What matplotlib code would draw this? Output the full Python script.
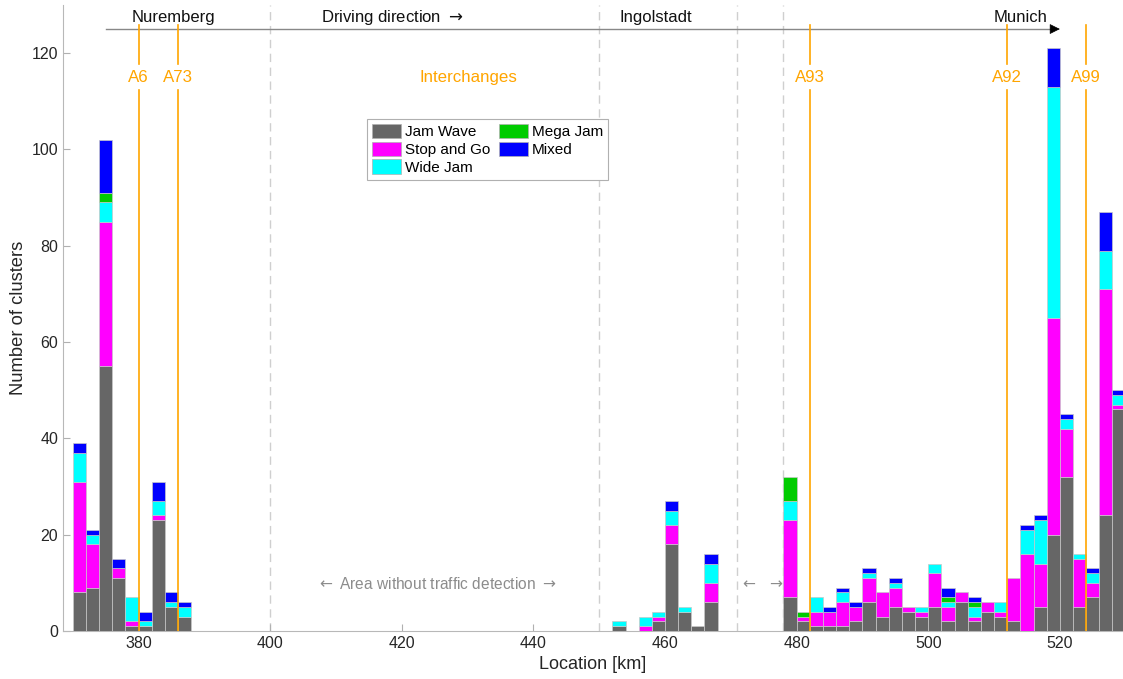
import numpy as np
import matplotlib
matplotlib.use('Agg')
import matplotlib.pyplot as plt

plt.rcParams['font.family'] = ['Liberation Sans', 'DejaVu Sans']

# left edge of each 2 km bin (only bins with clusters)
bin_start = [370, 372, 374, 376, 378, 380, 382, 384, 386,
             452, 456, 458, 460, 462, 464, 466,
             478, 480, 482, 484, 486, 488, 490, 492, 494, 496, 498, 500,
             502, 504, 506, 508, 510, 512, 514, 516, 518, 520, 522, 524,
             526, 528]

jam_wave = [8, 9, 55, 11, 1, 1, 23, 5, 3,
            1, 0, 2, 18, 4, 1, 6,
            7, 2, 1, 1, 1, 2, 6, 3, 5, 4, 3, 5,
            2, 6, 2, 4, 3, 2, 0, 5, 20, 32, 5, 7,
            24, 46]
stop_and_go = [23, 9, 30, 2, 1, 0, 1, 0, 0,
               0, 1, 1, 4, 0, 0, 4,
               16, 1, 3, 3, 5, 3, 5, 5, 4, 1, 1, 7,
               3, 2, 1, 2, 1, 9, 16, 9, 45, 10, 10, 3,
               47, 1]
wide_jam = [6, 2, 4, 0, 5, 1, 3, 1, 2,
            1, 2, 1, 3, 1, 0, 4,
            4, 0, 3, 0, 2, 0, 1, 0, 1, 0, 1, 2,
            1, 0, 2, 0, 2, 0, 5, 9, 48, 2, 1, 2,
            8, 2]
mega_jam = [0, 0, 2, 0, 0, 0, 0, 0, 0,
            0, 0, 0, 0, 0, 0, 0,
            5, 1, 0, 0, 0, 0, 0, 0, 0, 0, 0, 0,
            1, 0, 1, 0, 0, 0, 0, 0, 0, 0, 0, 0,
            0, 0]
mixed = [2, 1, 11, 2, 0, 2, 4, 2, 1,
         0, 0, 0, 2, 0, 0, 2,
         0, 0, 0, 1, 1, 1, 1, 0, 1, 0, 0, 0,
         2, 0, 1, 0, 0, 0, 1, 1, 8, 1, 0, 1,
         8, 1]

series = [('Jam Wave', jam_wave, '#666666'),
          ('Stop and Go', stop_and_go, '#ff00ff'),
          ('Wide Jam', wide_jam, '#00ffff'),
          ('Mega Jam', mega_jam, '#00cc00'),
          ('Mixed', mixed, '#0000ff')]

interchanges = ['A6', 'A73', 'A93', 'A92', 'A99']
interchange_km = [380, 386, 482, 512, 524]
no_detection_km = [400, 450, 471, 478]
cities = ['Nuremberg', 'Driving direction $\\rightarrow$', 'Ingolstadt', 'Munich']
city_km = [385.3, 418.6, 458.6, 514.1]

fig = plt.figure(figsize=(11.23, 6.79), dpi=100)
ax = fig.add_axes([0.056, 0.0707, 0.944, 0.922])

# stacked bars
x = np.array(bin_start) + 1.0
bottom = np.zeros(len(x))
for name, vals, col in series:
    vals = np.array(vals, dtype=float)
    m = vals > 0
    ax.bar(x[m], vals[m], width=2.0, bottom=bottom[m], color=col,
           edgecolor='#c8c8c8', linewidth=0.5, zorder=3)
    ax.bar(0, 0, color=col, edgecolor='#b0b0b0', linewidth=0.5, label=name)
    bottom += vals

# areas without detection
for k in no_detection_km:
    ax.axvline(k, color='#cfcfcf', lw=1.0, ls=(0, (6, 4)), zorder=1)

# interchanges
for name, k in zip(interchanges, interchange_km):
    ax.plot([k, k], [0, 112.3], color='#ffa500', lw=1.2, zorder=4)
    ax.plot([k, k], [117.7, 125.8], color='#ffa500', lw=1.2, zorder=4)
    ax.text(k, 114.9, name, color='#ffa500', fontsize=12.2, ha='center', va='center')
ax.text(430.1, 114.9, 'Interchanges', color='#ffa500', fontsize=12.2,
        ha='center', va='center')

# driving direction arrow
ax.plot([375, 519], [125, 125], color='#888888', lw=1.0, zorder=2)
ax.annotate('', xy=(520, 125), xytext=(518.6, 125),
            arrowprops=dict(arrowstyle='-|>', color='black', lw=0.5,
                            mutation_scale=16, shrinkA=0, shrinkB=0))
for name, k in zip(cities, city_km):
    ax.text(k, 127.3, name, fontsize=12, ha='center', va='center', color='#111111')

ax.text(425.3, 9.7, '$\\leftarrow$ Area without traffic detection $\\rightarrow$',
        color='#8c8c8c', fontsize=11.2, ha='center', va='center')
ax.text(474.6, 9.7, '$\\leftarrow$  $\\rightarrow$', color='#8c8c8c', fontsize=11.2,
        ha='center', va='center')

ax.set_xlim(368.5, 529.6)
ax.set_ylim(0, 130)
ax.set_xticks([380, 400, 420, 440, 460, 480, 500, 520])
ax.set_yticks([0, 20, 40, 60, 80, 100, 120])
ax.tick_params(direction='in', length=5, color='#b0b0b0', labelsize=11.5,
               labelcolor='#262626')
for s in ['top', 'right']:
    ax.spines[s].set_visible(False)
for s in ['left', 'bottom']:
    ax.spines[s].set_color('#b8b8b8')
ax.set_xlabel('Location [km]', fontsize=13, color='#262626', labelpad=4)
ax.set_ylabel('Number of clusters', fontsize=13.2, color='#262626', labelpad=3)

leg = ax.legend(ncol=2, loc='upper left', bbox_to_anchor=(0.287, 0.8175),
                borderaxespad=0, fontsize=11, fancybox=False, framealpha=1,
                edgecolor='#b0b0b0', handlelength=1.9, handleheight=1.1,
                handletextpad=0.25, columnspacing=0.6, labelspacing=0.15,
                borderpad=0.3)
leg.get_frame().set_linewidth(0.8)

fig.savefig('out.png', dpi=100)
